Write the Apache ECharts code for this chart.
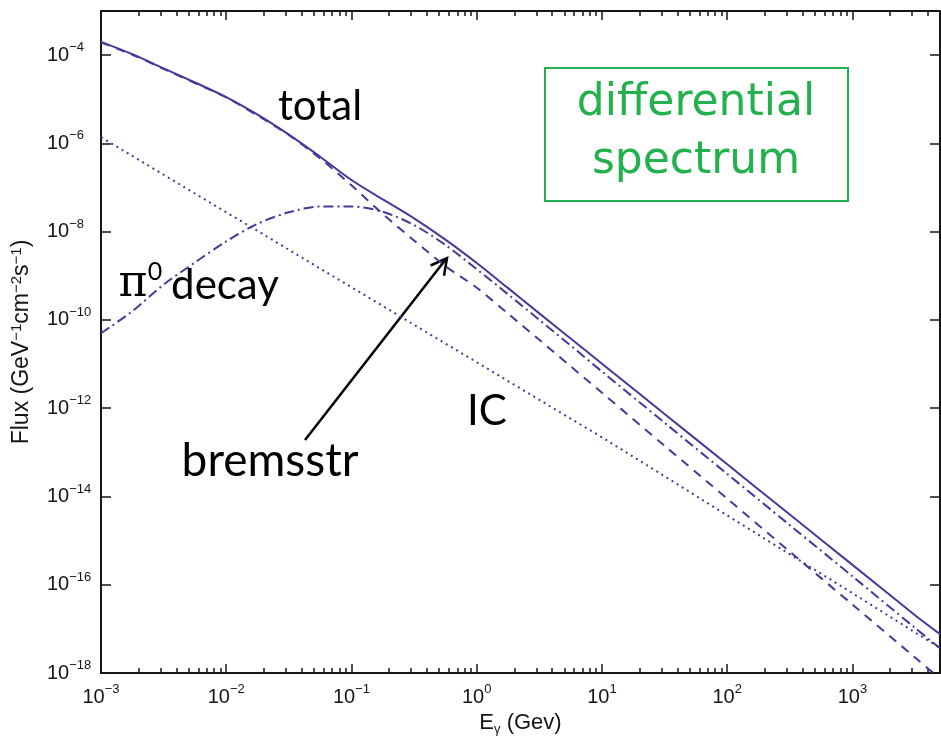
<!DOCTYPE html>
<html>
<head>
<meta charset="utf-8">
<script src="https://cdn.jsdelivr.net/npm/echarts@6.0.0/dist/echarts.min.js"></script>
<style>
  html, body { margin: 0; padding: 0; background: #fff; }
  #chart { width: 941px; height: 741px; }
</style>
</head>
<body>
<div id="chart"></div>
<script>
// photon energy (GeV)
const energies = [0.001, 0.00178, 0.00316, 0.00562, 0.01, 0.0178, 0.0316, 0.0562,
  0.1, 0.178, 0.316, 0.562, 1, 1.78, 3.16, 5.62, 10, 31.6, 100, 316, 1000, 3160, 5000];

// flux (GeV^-1 cm^-2 s^-1)
const totalFlux = [2.0e-4, 1.05e-4, 5.0e-5, 2.4e-5, 1.12e-5, 4.47e-6, 1.58e-6, 5.0e-7,
  1.48e-7, 5.37e-8, 2.0e-8, 6.6e-9, 1.95e-9, 5.25e-10, 1.41e-10, 3.8e-11, 1.02e-11,
  7.41e-13, 5.37e-14, 3.89e-15, 2.82e-16, 2.04e-17, 7.59e-18];
const pionFlux = [5.0e-11, 1.58e-10, 6.31e-10, 2.0e-9, 6.03e-9, 1.51e-8, 2.75e-8, 3.72e-8,
  3.72e-8, 2.82e-8, 1.41e-8, 5.0e-9, 1.41e-9, 3.8e-10, 1.0e-10, 2.63e-11, 6.76e-12,
  4.68e-13, 3.24e-14, 2.24e-15, 1.55e-16, 1.05e-17, 3.63e-18];
const bremsFlux = [1.95e-4, 1.02e-4, 4.9e-5, 2.34e-5, 1.10e-5, 4.27e-6, 1.55e-6, 4.57e-7,
  1.12e-7, 2.51e-8, 6.31e-9, 1.66e-9, 5.37e-10, 1.38e-10, 3.55e-11, 8.91e-12, 2.24e-12,
  1.41e-13, 8.91e-15, 5.62e-16, 3.55e-17, 2.24e-18, 7.41e-19];
const icFlux = [1.38e-6, 5.19e-7, 1.95e-7, 7.33e-8, 2.75e-8, 1.04e-8, 3.89e-9, 1.46e-9,
  5.5e-10, 2.07e-10, 7.76e-11, 2.92e-11, 1.10e-11, 4.12e-12, 1.55e-12, 5.82e-13, 2.19e-13,
  2.88e-14, 3.72e-15, 4.9e-16, 6.46e-17, 8.32e-18, 3.72e-18];

// labelled decades
const xTickExponents = [-3, -2, -1, 0, 1, 2, 3];
const yTickExponents = [-18, -16, -14, -12, -10, -8, -6, -4];

const ink = '#151515';
const curveColor = '#47389a';
const axisFont = '"Liberation Sans", Arial, sans-serif';
const noteFont = 'Lato, "Open Sans", sans-serif';

const pairs = ys => energies.map((e, i) => [e, ys[i]]);

function powerLabel(list) {
  return function (value) {
    const exp = Math.round(Math.log10(value));
    if (list.indexOf(exp) < 0) return '';
    return '{b|10}{e|' + (exp < 0 ? '\u2212' + (-exp) : exp) + '}';
  };
}

const labelRich = {
  b: { fontSize: 20, fontFamily: axisFont, color: ink, lineHeight: 28 },
  e: { fontSize: 13, fontFamily: axisFont, color: ink, lineHeight: 8, verticalAlign: 'top' }
};

function xAxisOpt(pos) {
  const bottom = pos === 'bottom';
  return {
    type: 'log', logBase: 10, min: 1e-3, max: 5000, interval: 1, position: pos,
    axisLine: { show: true, onZero: false, lineStyle: { color: ink, width: 2 } },
    axisTick: { show: true, inside: true, length: 9, lineStyle: { color: ink, width: 1.5 } },
    minorTick: { show: true, splitNumber: 9, length: 5, lineStyle: { color: ink, width: 1.5 } },
    splitLine: { show: false }, minorSplitLine: { show: false },
    axisLabel: { show: bottom, margin: 10, formatter: powerLabel(xTickExponents), rich: labelRich,
      showMaxLabel: false, hideOverlap: false },
    name: bottom ? '{n|E}{g|\u03b3}{n| (Gev)}' : '',
    nameLocation: 'middle', nameGap: 34,
    nameTextStyle: { rich: {
      n: { fontSize: 22, fontFamily: axisFont, color: ink, lineHeight: 26 },
      g: { fontSize: 13, fontFamily: axisFont, color: ink, lineHeight: 12, verticalAlign: 'bottom' }
    } }
  };
}

function yAxisOpt(pos) {
  const left = pos === 'left';
  return {
    type: 'log', logBase: 10, min: 1e-18, max: 1e-3, interval: 2, position: pos,
    axisLine: { show: true, onZero: false, lineStyle: { color: ink, width: 2 } },
    axisTick: { show: true, inside: true, length: 10, lineStyle: { color: ink, width: 1.5 } },
    splitLine: { show: false },
    axisLabel: { show: left, align: 'left', margin: 54, formatter: powerLabel(yTickExponents),
      rich: labelRich, showMaxLabel: false, hideOverlap: false },
    name: left ? '{n|Flux (GeV}{s|\u22121}{n|cm}{s|\u22122}{n|s}{s|\u22121}{n|)}' : '',
    nameLocation: 'middle', nameGap: 66, nameRotate: 90,
    nameTextStyle: { rich: {
      n: { fontSize: 23, fontFamily: axisFont, color: ink, lineHeight: 26 },
      s: { fontSize: 15, fontFamily: axisFont, color: ink, lineHeight: 12, verticalAlign: 'top' }
    } }
  };
}

function curve(name, ys, type, width, smooth) {
  return {
    type: 'line', name: name, data: pairs(ys), symbol: 'none', showSymbol: false,
    smooth: smooth, clip: true, silent: true,
    lineStyle: { color: curveColor, width: width, type: type }
  };
}

const chart = echarts.init(document.getElementById('chart'), null, { renderer: 'canvas' });
chart.setOption({
  animation: false,
  backgroundColor: '#fff',
  grid: { left: 101, right: 1, top: 11, bottom: 68, containLabel: false, outerBoundsMode: 'none' },
  xAxis: [xAxisOpt('bottom'), xAxisOpt('top')],
  yAxis: [yAxisOpt('left'), yAxisOpt('right')],
  series: [
    curve('IC', icFlux, [2, 4], 2, false),
    curve('bremsstr', bremsFlux, [9, 7], 2, 0.3),
    curve('pi0 decay', pionFlux, [10, 4, 2, 4], 2, 0.3),
    curve('total', totalFlux, 'solid', 2, 0.3)
  ],
  graphic: [
    { type: 'text', x: 320, y: 106, style: { text: 'total', font: '42px ' + noteFont, fill: '#000', align: 'center', verticalAlign: 'middle' } },
    { type: 'text', x: 133, y: 285, style: { text: '\u03c0', font: '44px "DejaVu Serif", serif', fill: '#000', align: 'center', verticalAlign: 'middle' } },
    { type: 'text', x: 155, y: 272, style: { text: '0', font: '25px ' + noteFont, fill: '#000', align: 'center', verticalAlign: 'middle' } },
    { type: 'text', x: 225, y: 285, style: { text: 'decay', font: '42px ' + noteFont, fill: '#000', align: 'center', verticalAlign: 'middle' } },
    { type: 'text', x: 487, y: 411, style: { text: 'IC', font: '42px ' + noteFont, fill: '#000', align: 'center', verticalAlign: 'middle' } },
    { type: 'text', x: 270, y: 461, style: { text: 'bremsstr', font: '46px ' + noteFont, fill: '#000', align: 'center', verticalAlign: 'middle' } },
    { type: 'line', shape: { x1: 305, y1: 440, x2: 446, y2: 259 }, style: { stroke: '#000', lineWidth: 2.5 } },
    { type: 'polyline', shape: { points: [[430.6, 265.5], [447, 258], [444, 275.7]] }, style: { stroke: '#000', lineWidth: 2.5, fill: null } },
    { type: 'rect', shape: { x: 545, y: 68, width: 303, height: 133 }, style: { stroke: '#22b14c', lineWidth: 2, fill: '#fff' } },
    { type: 'text', x: 696, y: 104, style: { text: 'differential', font: '44px "DejaVu Sans", sans-serif', fill: '#22b14c', align: 'center', verticalAlign: 'middle' } },
    { type: 'text', x: 696, y: 162, style: { text: 'spectrum', font: '44px "DejaVu Sans", sans-serif', fill: '#22b14c', align: 'center', verticalAlign: 'middle' } }
  ]
});
</script>
</body>
</html>
